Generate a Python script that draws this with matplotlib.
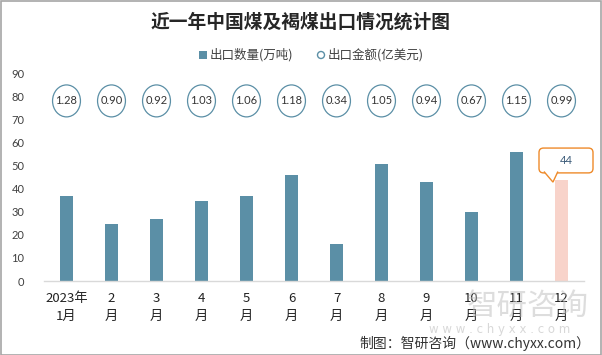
import matplotlib
matplotlib.use("Agg")
import matplotlib.pyplot as plt
from matplotlib.patches import Ellipse, Rectangle, FancyBboxPatch, Polygon

plt.rcParams['font.family'] = ['Noto Sans CJK SC', 'DejaVu Sans']

# ---- data ----
months = ["2023年\n1月", "2\n月", "3\n月", "4\n月", "5\n月", "6\n月",
          "7\n月", "8\n月", "9\n月", "10\n月", "11\n月", "12\n月"]
export_volume = [37, 25, 27, 35, 37, 46, 16, 51, 43, 30, 56, 44]      # 万吨
export_value = [1.28, 0.90, 0.92, 1.03, 1.06, 1.18, 0.34, 1.05, 0.94, 0.67, 1.15, 0.99]  # 亿美元
yticks = [0, 10, 20, 30, 40, 50, 60, 70, 80, 90]

# ---- style ----
BAR_COLOR = "#5b8fa6"
LAST_COLOR = "#f8d3ca"
CALLOUT_EDGE = "#ee8a2a"
CIRCLE_Y = 78.3
TEXT_COLOR = "#404040"

fig = plt.figure(figsize=(6.02, 3.55), dpi=100)
ax = fig.add_axes([44/602, 1-281/355, 540/602, (281-74)/355])

x = list(range(len(months)))
colors = [BAR_COLOR]*(len(months)-1) + [LAST_COLOR]
ax.bar(x, export_volume, width=0.31, color=colors, zorder=2)

# circles with values
for i, v in enumerate(export_value):
    e = Ellipse((i, CIRCLE_Y), width=0.62, height=13.9, facecolor="white",
                edgecolor=BAR_COLOR, linewidth=0.9, zorder=3)
    ax.add_patch(e)
    ax.text(i, CIRCLE_Y, f"{v:.2f}", ha="center", va="center", fontsize=8,
            family=["Lato", "DejaVu Sans"], color="#333333", zorder=4)

# callout for last bar (positioned relative to the bar's value)
last = len(months) - 1
lv = export_volume[last]
box = FancyBboxPatch((last - 0.5, lv + 3.0), 1.2, 10.8,
                     boxstyle="round,pad=0,rounding_size=0.1",
                     mutation_aspect=19.6, facecolor="white",
                     edgecolor=CALLOUT_EDGE, linewidth=1.0, zorder=5, clip_on=False)
ax.add_patch(box)
pointer = Polygon([(last - 0.39, lv + 3.6), (last - 0.19, lv - 1.0), (last - 0.08, lv + 3.6)],
                  closed=False, facecolor="white", edgecolor=CALLOUT_EDGE,
                  linewidth=1.0, zorder=6, clip_on=False)
ax.add_patch(pointer)
ax.text(last + 0.1, lv + 8.4, f"{lv:g}", ha="center", va="center", fontsize=8,
        family=["Lato", "DejaVu Sans"], color="#3a5a78", zorder=7)

ax.set_xlim(-0.5, len(months) - 0.5)
ax.set_ylim(0, 90)
ax.set_yticks(yticks)
ax.set_yticklabels([str(t) for t in yticks], family=["Lato", "DejaVu Sans"],
                   fontsize=8, color=TEXT_COLOR)
ax.set_xticks(x)
ax.set_xticklabels(months, fontsize=9.5, color="#222222", linespacing=1.5)
ax.tick_params(axis="y", length=0, pad=14)
ax.tick_params(axis="x", length=0, pad=8)
for s in ["left", "right", "top"]:
    ax.spines[s].set_visible(False)
ax.spines["bottom"].set_color("#d9d9d9")
ax.spines["bottom"].set_linewidth(1.0)

# title
fig.text(0.5, 1-22/355, "近一年中国煤及褐煤出口情况统计图", ha="center", va="center",
         fontsize=13.5, fontweight="bold", color="#262626")

# legend (manual, figure coordinates)
fig.patches.append(Rectangle((199/602, 1-59/355), 8/602, 8/355, transform=fig.transFigure,
                             facecolor=BAR_COLOR, edgecolor="none"))
fig.text(210/602, 1-55/355, "出口数量(万吨)", ha="left", va="center", fontsize=9, color=TEXT_COLOR)
fig.add_artist(Ellipse((321/602, 1-55/355), 7/602, 7/355, transform=fig.transFigure,
                       facecolor="white", edgecolor=BAR_COLOR, lw=1.0))
fig.text(328/602, 1-55/355, "出口金额(亿美元)", ha="left", va="center", fontsize=9, color=TEXT_COLOR)

# watermark
fig.text(528/602, 1-306/355, "智研咨询", ha="center", va="center", fontsize=22,
         color="#bdbdbd", alpha=0.5)
fig.text(500/602, 1-330/355, "w w w . c h y x x . c o m", ha="center", va="center",
         fontsize=8.5, color="#c8c8c8", alpha=0.7, family=["DejaVu Sans"])

# footer
fig.text(590/602, 1-343/355, "制图：智研咨询（www.chyxx.com）", ha="right", va="center",
         fontsize=10, color="#333333")

# border
fig.patches.append(Rectangle((0.5/602, 0.5/355), 600.5/602, 353.5/355, transform=fig.transFigure,
                             facecolor="none", edgecolor="#a6a6a6", lw=1.2))

fig.savefig("out.png", dpi=100)
